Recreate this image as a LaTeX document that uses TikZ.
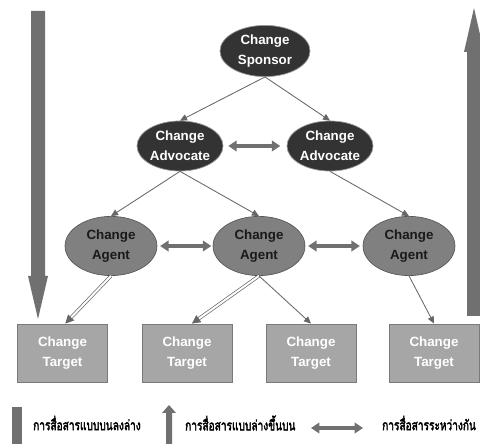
\documentclass[tikz,border=0pt]{standalone}
\usepackage{fontspec}
\setmainfont{Liberation Sans}
\newfontfamily\thaifont[Script=Thai, FakeBold=3]{Loma}
\usetikzlibrary{arrows.meta,shapes.geometric}
\definecolor{darkfill}{HTML}{333333}
\definecolor{agentfill}{HTML}{808080}
\definecolor{targetfill}{HTML}{A6A6A6}
\definecolor{targetedge}{HTML}{7A7A7A}
\definecolor{linegray}{HTML}{666666}
\definecolor{arrowgray}{HTML}{707070}
\tikzset{
  lbl/.style={font=\bfseries\fontsize{9.5}{14}\selectfont, align=center, inner sep=0pt},
  dark/.style={lbl, ellipse, draw=gray!80, line width=0.5pt, fill=darkfill, text=white},
  agent/.style={lbl, ellipse, draw=gray!60!black, line width=0.4pt, fill=agentfill, text=black!90,
                minimum width=2.3cm, minimum height=1.48cm},
  target/.style={lbl, rectangle, draw=targetedge, line width=0.6pt, fill=targetfill, text=white,
                 minimum width=2.25cm, minimum height=1.45cm},
  link/.style={draw=linegray, line width=0.6pt, -{Triangle[length=5pt,width=4.5pt]}},
  duallink/.style={draw=linegray, line width=0.5pt, double=white, double distance=1.4pt,
                   -{Triangle[length=6pt,width=6pt]}},
  peer/.style={draw=arrowgray, line width=2.8pt,
               {Triangle[length=6pt,width=7.5pt]}-{Triangle[length=6pt,width=7.5pt]}},
  legend/.style={font=\thaifont\fontsize{10}{12}\selectfont, anchor=west, inner sep=0pt,
                 xscale=0.72, transform shape}
}
\begin{document}
\begin{tikzpicture}[x=0.025cm,y=-0.025cm]
\useasboundingbox (0,0) rectangle (480,444);

% top down and bottom up arrows
\fill[arrowgray] (31,11) -- (45,11) -- (45,276) -- (48,276) -- (38,319) -- (28,276) -- (31,276) -- cycle; % down
\fill[arrowgray] (467,316) -- (481,316) -- (481,52) -- (484,52) -- (474,8) -- (464,52) -- (467,52) -- cycle; % up

% hierarchy
\node[dark, minimum width=2.25cm, minimum height=1.28cm] (sponsor) at (265,51) {Change\\Sponsor};
\node[dark, minimum width=2.15cm, minimum height=1.25cm] (advL) at (180,146) {Change\\Advocate};
\node[dark, minimum width=2.15cm, minimum height=1.25cm] (advR) at (330,146) {Change\\Advocate};
\node[agent] (agL) at (111,246) {Change\\Agent};
\node[agent] (agM) at (259,246) {Change\\Agent};
\node[agent] (agR) at (409,246) {Change\\Agent};
\node[target] (tgA) at (62.5,353) {Change\\Target};
\node[target] (tgB) at (187,353) {Change\\Target};
\node[target] (tgC) at (311,353) {Change\\Target};
\node[target] (tgD) at (434,353) {Change\\Target};

% connectors
\draw[link] (sponsor.south) -- (advL.north);
\draw[link] (sponsor.south) -- (advR.north);
\draw[link] (advL.south) -- (agL.north);
\draw[link] (advL.south) -- (agM.north);
\draw[link] (advR.south) -- (agR.north);
\draw[duallink] (agL.south) -- ([xshift=2pt]tgA.north);
\draw[duallink] (agM.south) -- ([xshift=3.5pt]tgB.north);
\draw[link] (agM.south) -- (tgC.north);
\draw[link] (agR.south) -- (tgD.north);

% peer arrows
\draw[peer, shorten <=3.5pt, shorten >=4.5pt] (advL) -- (advR);
\draw[peer, shorten <=2pt, shorten >=1pt] (agL) -- (agM);
\draw[peer, shorten <=2pt, shorten >=2pt] (agM) -- (agR);

% legend
\fill[arrowgray] (12,407) rectangle (22,444); % down bar
\node[legend] (legDown) at (33,423) {การสื่อสารแบบบนลงล่าง};
\fill[arrowgray] (166,444) -- (166,413) -- (162,413) -- (169,405) -- (176,413) -- (172,413) -- (172,444) -- cycle; % up
\node[legend] (legUp) at (185,423) {การสื่อสารแบบล่างขึ้นบน};
\coordinate (legA) at (311,428);
\coordinate (legB) at (363,428);
\draw[peer] (legA) -- (legB);
\node[legend] (legPeer) at (382,423) {การสื่อสารระหว่างกัน};
\end{tikzpicture}
\end{document}
